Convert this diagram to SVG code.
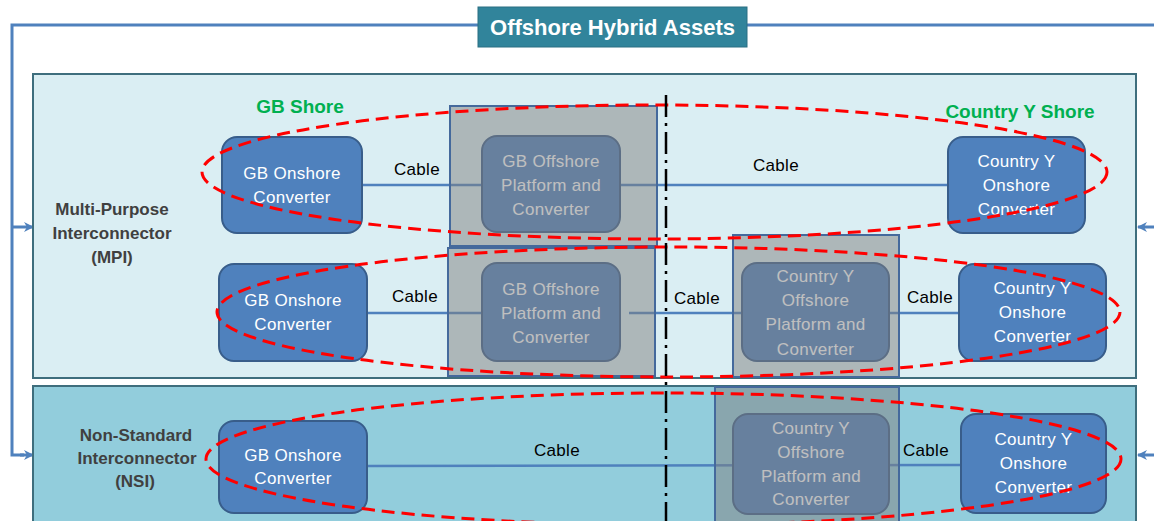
<svg xmlns="http://www.w3.org/2000/svg" width="1154" height="521" viewBox="0 0 1154 521">
  <defs>
    <marker id="arrow" viewBox="0 0 10 10" refX="9" refY="5" markerWidth="11" markerHeight="10" markerUnits="userSpaceOnUse" orient="auto">
      <path d="M0,0 L10,5 L0,10 L3,5 z" fill="#4f81bd"/>
    </marker>
    <style>
      .frame { fill: none; stroke: #4f81bd; stroke-width: 3; }
      .feed { fill: none; stroke: #4f81bd; stroke-width: 3; marker-end: url(#arrow); }
      .band { stroke: #3e6e7d; stroke-width: 2; }
      .mpi { fill: #daeef3; }
      .nsi { fill: #92cddc; }
      .cable { fill: none; stroke: #4f81bd; stroke-width: 2.5; }
      .conv rect { fill: #4f81bd; stroke: #385d8a; stroke-width: 2; }
      .conv text { fill: #ffffff; font-family: "Liberation Sans", Arial, sans-serif; font-size: 17px; letter-spacing: 0.3px; text-anchor: middle; }
      .zone { fill: #7f7f7f; fill-opacity: 0.5; stroke: #44699c; stroke-width: 2; }
      .lbl { fill: #000000; font-family: "Liberation Sans", Arial, sans-serif; font-size: 17px; letter-spacing: 0.3px; text-anchor: middle; }
      .side { fill: #404040; font-family: "Liberation Sans", Arial, sans-serif; font-size: 17px; font-weight: bold; text-anchor: middle; }
      .shore { fill: #00b050; font-family: "Liberation Sans", Arial, sans-serif; font-size: 19px; font-weight: bold; text-anchor: middle; }
      .loop { fill: none; stroke: #ff0000; stroke-width: 3; stroke-dasharray: 13 7; }
      .border { fill: none; stroke: #000000; stroke-width: 2.5; stroke-dasharray: 22 6 3 6; }
    </style>
  </defs>

  <rect width="1154" height="521" fill="#ffffff"/>

  <!-- outer frame with feeds into both bands -->
  <g id="frame">
    <polyline class="frame" points="478,25 12,25 12,455 24,455"/>
    <line class="frame" x1="747" y1="25" x2="1154" y2="25"/>
    <line class="feed" x1="12" y1="227" x2="33" y2="227"/>
    <line class="feed" x1="20" y1="455" x2="33" y2="455"/>
    <line class="feed" x1="1154" y1="227" x2="1138" y2="227"/>
    <line class="feed" x1="1154" y1="455" x2="1138" y2="455"/>
  </g>

  <g id="title">
    <rect x="478" y="7" width="269" height="40" fill="#31849b" stroke="#2a6f82" stroke-width="1"/>
    <text x="612.5" y="35" fill="#ffffff" font-family="Liberation Sans, Arial, sans-serif" font-size="22" font-weight="bold" text-anchor="middle">Offshore Hybrid Assets</text>
  </g>

  <!-- interconnector bands -->
  <g id="band-mpi">
    <rect class="band mpi" x="33" y="74" width="1103" height="304"/>
    <text class="side" x="112" y="215">Multi-Purpose</text>
    <text class="side" x="112" y="239">Interconnector</text>
    <text class="side" x="112" y="263">(MPI)</text>
  </g>
  <g id="band-nsi">
    <rect class="band nsi" x="33" y="386" width="1103" height="145"/>
    <text class="side" x="136" y="441">Non-Standard</text>
    <text class="side" x="137" y="464">Interconnector</text>
    <text class="side" x="135" y="487">(NSI)</text>
  </g>

  <text class="shore" x="300" y="113">GB Shore</text>
  <text class="shore" x="1020" y="118">Country Y Shore</text>

  <!-- cables -->
  <g id="connectors">
    <line class="cable" x1="362" y1="185" x2="948" y2="185"/>
    <line class="cable" x1="367" y1="313" x2="482" y2="313"/>
    <line class="cable" x1="629" y1="313" x2="959" y2="313"/>
    <line class="cable" x1="367" y1="466" x2="961" y2="465"/>
    <text class="lbl" x="417" y="175">Cable</text>
    <text class="lbl" x="776" y="171">Cable</text>
    <text class="lbl" x="415" y="302">Cable</text>
    <text class="lbl" x="697" y="304">Cable</text>
    <text class="lbl" x="930" y="303">Cable</text>
    <text class="lbl" x="557" y="456">Cable</text>
    <text class="lbl" x="926" y="456">Cable</text>
  </g>

  <!-- converters -->
  <g id="gb-onshore-1" class="conv">
    <rect x="222" y="137" width="140" height="96" rx="15"/>
    <text x="292" y="179">GB Onshore</text>
    <text x="292" y="203">Converter</text>
  </g>
  <g id="gb-offshore-1" class="conv">
    <rect x="482" y="136" width="138" height="96" rx="15"/>
    <text x="551" y="167">GB Offshore</text>
    <text x="551" y="191">Platform and</text>
    <text x="551" y="215">Converter</text>
  </g>
  <g id="cy-onshore-1" class="conv">
    <rect x="948" y="137" width="137" height="96" rx="15"/>
    <text x="1016.5" y="167">Country Y</text>
    <text x="1016.5" y="191">Onshore</text>
    <text x="1016.5" y="215">Converter</text>
  </g>

  <g id="gb-onshore-2" class="conv">
    <rect x="219" y="264" width="148" height="97" rx="15"/>
    <text x="293" y="306">GB Onshore</text>
    <text x="293" y="330">Converter</text>
  </g>
  <g id="gb-offshore-2" class="conv">
    <rect x="482" y="263" width="138" height="98" rx="15"/>
    <text x="551" y="295">GB Offshore</text>
    <text x="551" y="319">Platform and</text>
    <text x="551" y="343">Converter</text>
  </g>
  <g id="cy-offshore-2" class="conv">
    <rect x="742" y="263" width="147" height="98" rx="15"/>
    <text x="815.5" y="282">Country Y</text>
    <text x="815.5" y="306">Offshore</text>
    <text x="815.5" y="330">Platform and</text>
    <text x="815.5" y="355">Converter</text>
  </g>
  <g id="cy-onshore-2" class="conv">
    <rect x="959" y="264" width="147" height="97" rx="15"/>
    <text x="1032.5" y="294">Country Y</text>
    <text x="1032.5" y="318">Onshore</text>
    <text x="1032.5" y="342">Converter</text>
  </g>

  <g id="gb-onshore-3" class="conv">
    <rect x="219" y="421" width="148" height="92" rx="15"/>
    <text x="293" y="461">GB Onshore</text>
    <text x="293" y="484">Converter</text>
  </g>
  <g id="cy-offshore-3" class="conv">
    <rect x="733" y="414" width="156" height="100" rx="15"/>
    <text x="811" y="434">Country Y</text>
    <text x="811" y="458">Offshore</text>
    <text x="811" y="482">Platform and</text>
    <text x="811" y="505">Converter</text>
  </g>
  <g id="cy-onshore-3" class="conv">
    <rect x="961" y="414" width="145" height="99" rx="15"/>
    <text x="1033.5" y="445">Country Y</text>
    <text x="1033.5" y="469">Onshore</text>
    <text x="1033.5" y="493">Converter</text>
  </g>

  <!-- offshore platform zones (translucent overlays) -->
  <g id="zones">
    <rect id="zone-gb-1" class="zone" x="450" y="106" width="207" height="140"/>
    <rect id="zone-gb-2" class="zone" x="448" y="248" width="207" height="128"/>
    <rect id="zone-cy-2" class="zone" x="733" y="235" width="166" height="142"/>
    <rect id="zone-cy-3" class="zone" x="715" y="387" width="184" height="144"/>
  </g>

  <!-- asset groupings -->
  <g id="groupings">
    <ellipse class="loop" cx="654.5" cy="172" rx="452.5" ry="67"/>
    <ellipse class="loop" cx="668.5" cy="312" rx="451.5" ry="65"/>
    <ellipse class="loop" cx="663.5" cy="459" rx="457.5" ry="66"/>
  </g>

  <!-- jurisdiction boundary -->
  <line id="boundary" class="border" x1="666" y1="95" x2="666" y2="521"/>
</svg>
